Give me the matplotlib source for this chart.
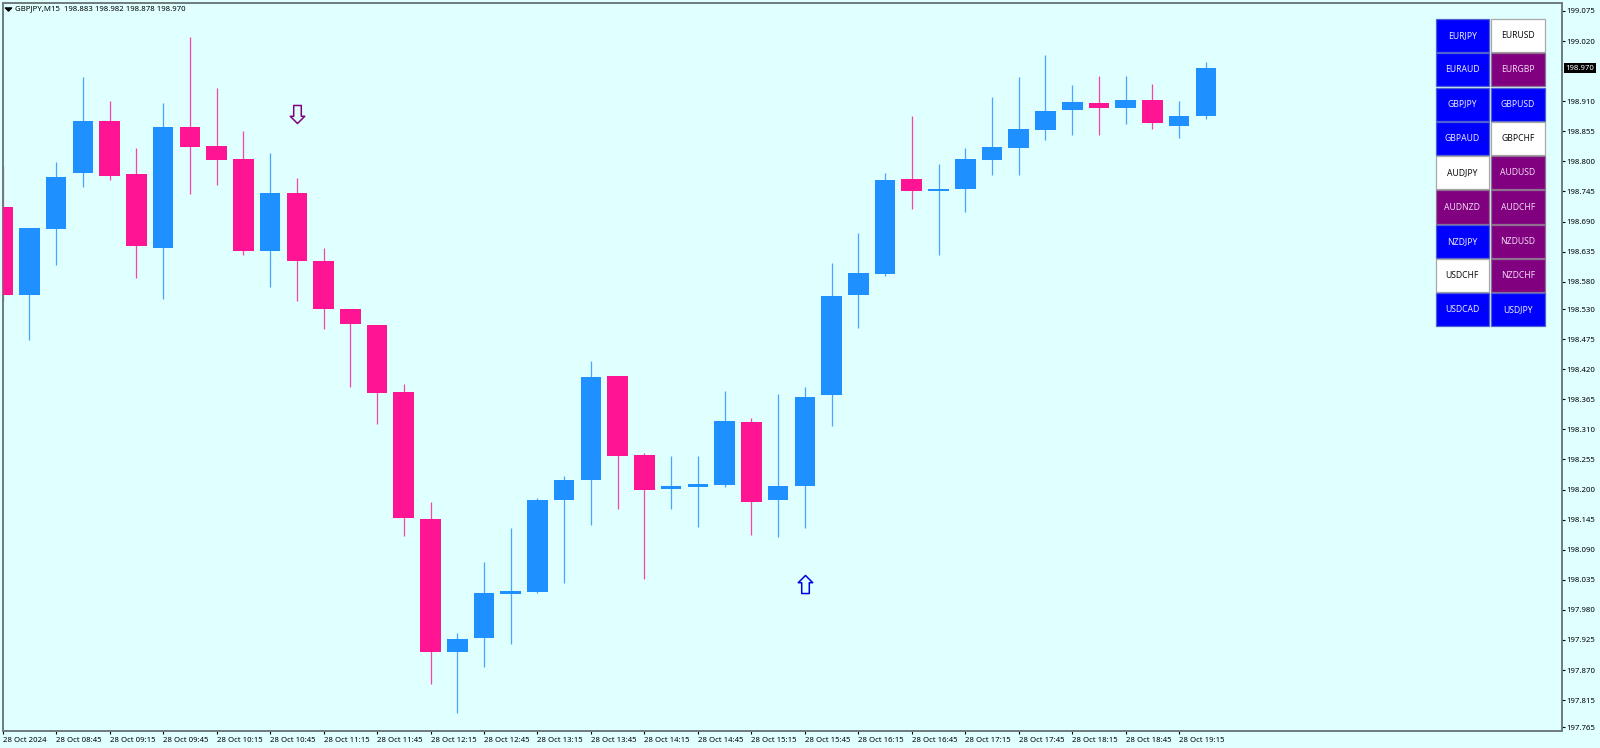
import numpy as np
import matplotlib
matplotlib.use("Agg")
import matplotlib.pyplot as plt
from matplotlib.patches import Rectangle
from matplotlib.path import Path

plt.rcParams['font.family'] = ['Noto Sans', 'DejaVu Sans']

# GBPJPY M15 candles
opens = [198.717, 198.555, 198.677, 198.778, 198.873, 198.777, 198.642, 198.863, 198.828, 198.804,
         198.637, 198.743, 198.617, 198.530, 198.501, 198.378, 198.147, 197.903, 197.928, 198.009,
         198.013, 198.180, 198.218, 198.407, 198.263, 198.201, 198.205, 198.208, 198.324, 198.180,
         198.206, 198.373, 198.556, 198.594, 198.768, 198.745, 198.749, 198.803, 198.824, 198.857,
         198.894, 198.907, 198.897, 198.912, 198.865, 198.883]
highs = [198.792, 198.678, 198.799, 198.954, 198.910, 198.824, 198.906, 199.027, 198.935, 198.856,
         198.815, 198.770, 198.642, 198.530, 198.501, 198.393, 198.177, 197.938, 198.068, 198.129,
         198.184, 198.224, 198.435, 198.407, 198.267, 198.261, 198.261, 198.381, 198.330, 198.375,
         198.387, 198.615, 198.669, 198.779, 198.882, 198.795, 198.824, 198.918, 198.954, 198.994,
         198.940, 198.956, 198.956, 198.941, 198.910, 198.982]
lows = [198.545, 198.474, 198.610, 198.754, 198.765, 198.586, 198.548, 198.740, 198.756, 198.628,
        198.570, 198.545, 198.494, 198.388, 198.319, 198.116, 197.844, 197.792, 197.876, 197.917,
        198.011, 198.029, 198.135, 198.164, 198.036, 198.164, 198.132, 198.205, 198.117, 198.114,
        198.129, 198.317, 198.495, 198.591, 198.712, 198.628, 198.708, 198.775, 198.775, 198.839,
        198.848, 198.848, 198.868, 198.859, 198.842, 198.878]
closes = [198.555, 198.678, 198.771, 198.873, 198.773, 198.645, 198.863, 198.827, 198.803, 198.637,
          198.742, 198.617, 198.530, 198.502, 198.377, 198.148, 197.903, 197.927, 198.011, 198.014,
          198.181, 198.218, 198.405, 198.262, 198.200, 198.206, 198.211, 198.326, 198.177, 198.206,
          198.369, 198.553, 198.595, 198.765, 198.745, 198.749, 198.804, 198.826, 198.859, 198.892,
          198.909, 198.897, 198.912, 198.871, 198.883, 198.970]

price_ticks = [199.075, 199.020, 198.910, 198.855, 198.800, 198.745, 198.690, 198.635, 198.580, 198.530,
               198.475, 198.420, 198.365, 198.310, 198.255, 198.200, 198.145, 198.090, 198.035, 197.980,
               197.925, 197.870, 197.815, 197.765]
time_labels = ['28 Oct 2024', '28 Oct 08:45', '28 Oct 09:15', '28 Oct 09:45', '28 Oct 10:15', '28 Oct 10:45',
               '28 Oct 11:15', '28 Oct 11:45', '28 Oct 12:15', '28 Oct 12:45', '28 Oct 13:15', '28 Oct 13:45',
               '28 Oct 14:15', '28 Oct 14:45', '28 Oct 15:15', '28 Oct 15:45', '28 Oct 16:15', '28 Oct 16:45',
               '28 Oct 17:15', '28 Oct 17:45', '28 Oct 18:15', '28 Oct 18:45', '28 Oct 19:15']

sell_bar = [11]
sell_price = [198.886]
buy_bar = [30]
buy_price = [198.028]
last_price = 198.970
header = 'GBPJPY,M15  198.883 198.982 198.878 198.970'

left_buttons = ['EURJPY', 'EURAUD', 'GBPJPY', 'GBPAUD', 'AUDJPY', 'AUDNZD', 'NZDJPY', 'USDCHF', 'USDCAD']
right_buttons = ['EURUSD', 'EURGBP', 'GBPUSD', 'GBPCHF', 'AUDUSD', 'AUDCHF', 'NZDUSD', 'NZDCHF', 'USDJPY']
left_state = ['up', 'up', 'up', 'up', 'flat', 'down', 'up', 'flat', 'up']
right_state = ['flat', 'down', 'up', 'flat', 'down', 'down', 'down', 'down', 'up']

BG = '#E0FFFF'
BULL = '#1E90FF'
BEAR = '#FF1493'
FRAME = '#6E7B7B'
W, H = 1600, 748


def to_fig(px, py):
    return px / W, 1 - py / H


fig = plt.figure(figsize=(W / 100, H / 100), dpi=100, facecolor=BG)
ax_left, ax_bottom = to_fig(2.5, 731)
ax_right, ax_top = to_fig(1561.5, 2.5)
ax = fig.add_axes([ax_left, ax_bottom, ax_right - ax_left, ax_top - ax_bottom], facecolor=BG)

o = np.array(opens)
c = np.array(closes)
xs = np.arange(len(o))
colors = [BULL if c[i] >= o[i] else BEAR for i in xs]

ax.vlines(xs, lows, highs, colors=colors, linewidth=0.9, alpha=0.8, zorder=2)
ax.bar(xs, np.abs(c - o), bottom=np.minimum(o, c), width=0.77, color=colors, linewidth=0, zorder=3)

ax.set_xlim(-0.008, 58.3)
ax.set_ylim(197.7586, 199.0904)

# hollow arrows
down_arrow = Path([(-2.1, 5), (2.1, 5), (2.1, -1), (4, -1), (0, -5), (-4, -1), (-2.1, -1), (-2.1, 5)], closed=True)
up_arrow = Path([(-2.1, -5), (2.1, -5), (2.1, 1), (4, 1), (0, 5), (-4, 1), (-2.1, 1), (-2.1, -5)], closed=True)
ax.plot(sell_bar, sell_price, linestyle='none', marker=down_arrow, markersize=13, mfc=BG, mec='#800080', mew=1.1, zorder=4)
ax.plot(buy_bar, buy_price, linestyle='none', marker=up_arrow, markersize=13, mfc=BG, mec='#0000E0', mew=1.1, zorder=4)

ax.yaxis.tick_right()
ax.set_yticks(price_ticks)
ax.set_yticklabels(['%.3f' % p for p in price_ticks])
ax.set_xticks(xs[::2][:len(time_labels)])
ax.set_xticklabels(time_labels, ha='left')
ax.tick_params(axis='y', length=1.8, width=0.8, pad=1.5, labelsize=5.6, color='black')
ax.tick_params(axis='x', length=2.2, width=0.8, pad=1.8, labelsize=5.6, color='black')

for s in ax.spines.values():
    s.set_color(FRAME)
    s.set_linewidth(1.4)

# current price box
ax.annotate('%.3f' % last_price, xy=(1, last_price), xycoords=('axes fraction', 'data'), xytext=(2.8, 0),
            textcoords='offset points', va='center', ha='left', color='white', fontsize=5.6, zorder=6,
            annotation_clip=False,
            bbox=dict(boxstyle='square,pad=0.2', fc='black', ec='black', lw=0))

# header line
fx, fy = to_fig(15, 9)
fig.text(fx, fy, header, fontsize=5.6, color='black', va='center', ha='left')
tx, ty = to_fig(8, 9)
flat_tri = Path([(-3, 1.5), (3, 1.5), (0, -1.5), (-3, 1.5)], closed=True)
fig.add_artist(plt.Line2D([tx], [ty], marker=flat_tri, markersize=4.5, color='black', linestyle='none'))

# symbol buttons
state_fill = {'up': '#0000FF', 'down': '#800080', 'flat': '#FFFFFF'}
state_text = {'up': '#E8E8FF', 'down': '#F0D8F0', 'flat': '#101010'}
state_edge = {'up': '#5060D0', 'down': '#907090', 'flat': '#A8A8A8'}
col_x = [1435.5, 1491]
btn_w, btn_h = 53.5, 33
row_y0, row_step = 19, 34.3
for col, names, states in ((0, left_buttons, left_state), (1, right_buttons, right_state)):
    for row, name in enumerate(names):
        x0, y1 = to_fig(col_x[col], row_y0 + row * row_step + btn_h)
        x1, y0 = to_fig(col_x[col] + btn_w, row_y0 + row * row_step)
        st = states[row]
        fig.add_artist(Rectangle((x0, y1), x1 - x0, y0 - y1, transform=fig.transFigure,
                                 fc=state_fill[st], ec=state_edge[st], lw=0.9, zorder=5))
        fig.text((x0 + x1) / 2, (y0 + y1) / 2, name, color=state_text[st], fontsize=6.2,
                 ha='center', va='center', zorder=6)

fig.savefig('out.png', dpi=100, facecolor=BG)
